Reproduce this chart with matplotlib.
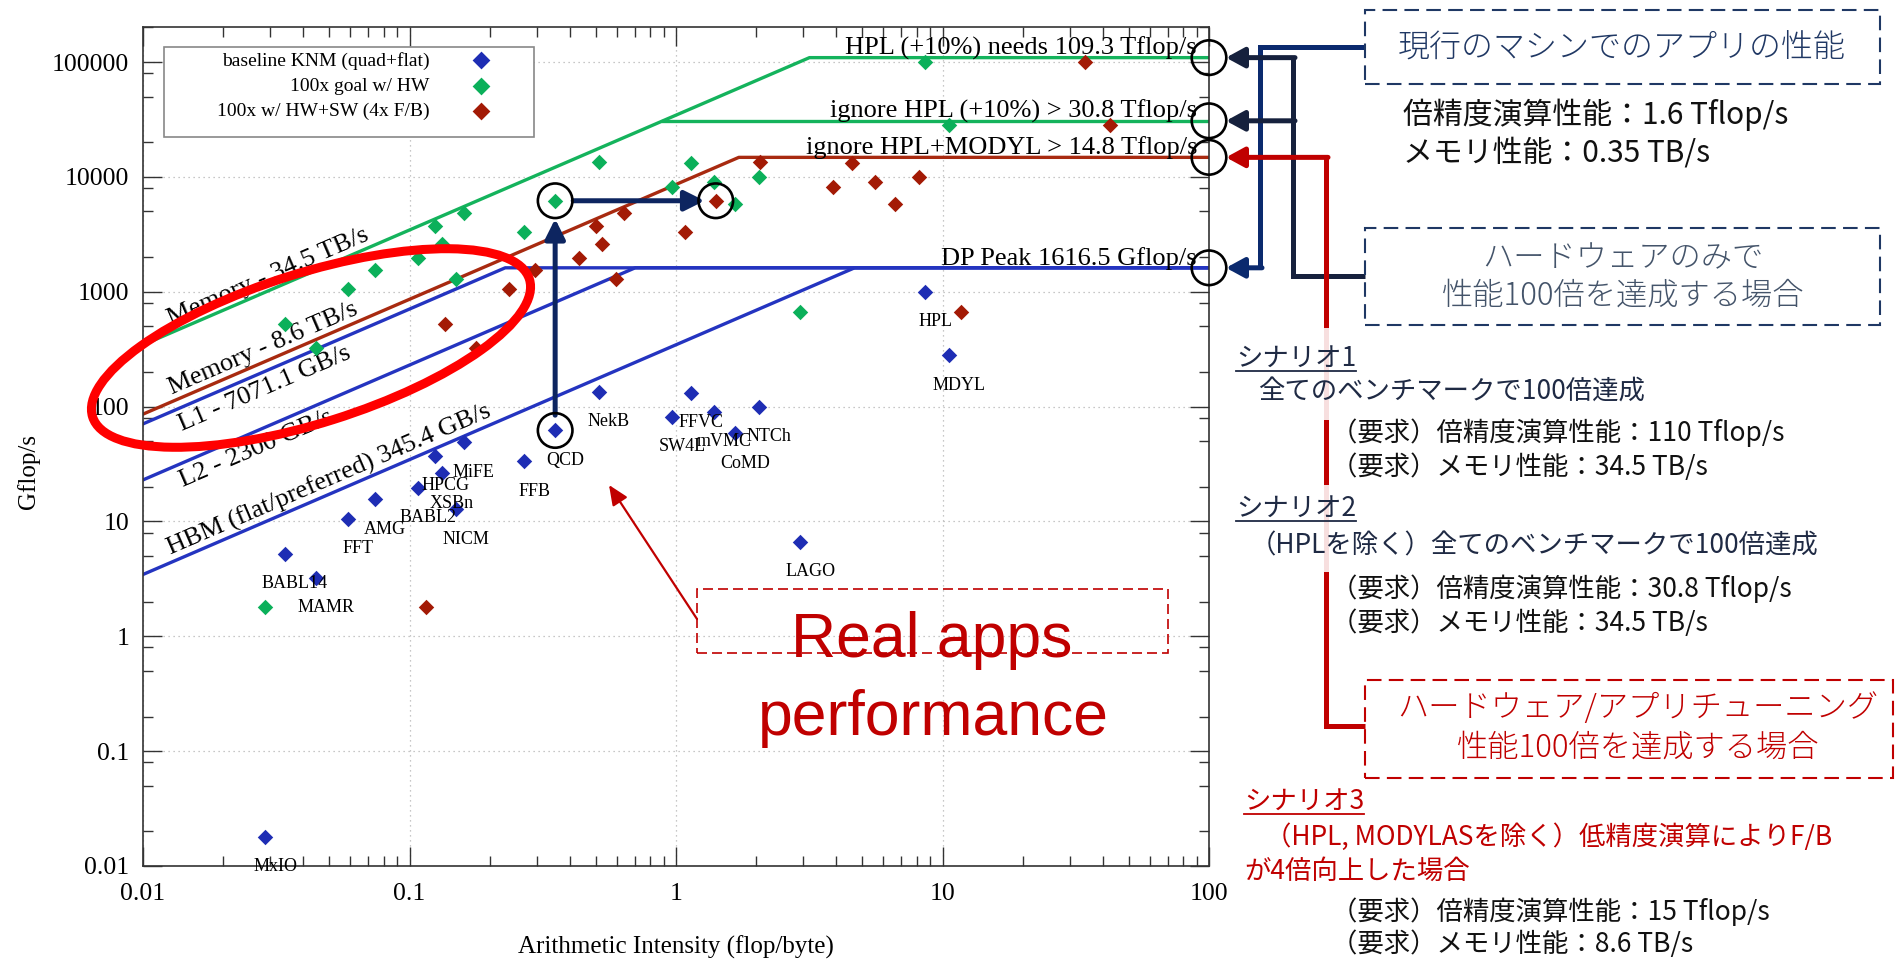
import math
import matplotlib
matplotlib.use('Agg')
import matplotlib.pyplot as plt
from matplotlib.patches import Ellipse, Rectangle, FancyArrowPatch
from matplotlib.lines import Line2D
from matplotlib.transforms import IdentityTransform
from matplotlib.ticker import LogLocator, NullFormatter

plt.rcParams['font.family'] = ['Liberation Serif', 'DejaVu Serif']
JP = ['Noto Sans CJK JP', 'DejaVu Sans']
W, H = 1898, 959

# ---- benchmark data ----
apps = ['MxIO', 'BABL14', 'MAMR', 'FFT', 'AMG', 'BABL2', 'HPCG', 'XSBn', 'NICM', 'MiFE', 'FFB',
        'QCD', 'NekB', 'FFVC', 'SW4L', 'mVMC', 'CoMD', 'NTCh', 'LAGO', 'HPL', 'MDYL']
base_ai = [0.0288, 0.0341, 0.0444, 0.0589, 0.0743, 0.108, 0.125, 0.132, 0.149, 0.160, 0.270,
           0.352, 0.514, 1.14, 0.97, 1.39, 1.67, 2.04, 2.93, 8.6, 10.6]
base_gf = [0.0179, 5.25, 3.25, 10.6, 15.6, 19.6, 37.5, 26.3, 12.8, 48.9, 33.3,
           62, 135, 132, 81.8, 90.5, 58.6, 100, 6.65, 1000, 281]
goal_gf = [1.79, 525, 325, 1060, 1560, 1960, 3750, 2630, 1280, 4890, 3330,
           6200, 13500, 13200, 8180, 9050, 5860, 10000, 665, 100000, 28100]
sw_ai = [0.115, 0.136, 0.178, 0.236, 0.297, 0.432, 0.50, 0.528, 0.596, 0.64, 1.08,
         1.41, 2.06, 4.56, 3.88, 5.56, 6.66, 8.16, 11.7, 34.4, 42.4]
sw_gf = [1.79, 525, 325, 1060, 1560, 1960, 3750, 2630, 1280, 4890, 3330,
         6200, 13500, 13200, 8180, 9050, 5860, 10000, 665, 100000, 28100]
series_names = ['baseline KNM (quad+flat)', '100x goal w/ HW', '100x w/ HW+SW (4x F/B)']

# roofs: bandwidth (GB/s) and compute ceiling (Gflop/s)
mem_names = ['Memory - 34.5 TB/s', 'Memory - 8.6 TB/s', 'L1 - 7071.1 GB/s',
             'L2 - 2300 GB/s', 'HBM (flat/preferred) 345.4 GB/s']
mem_bw = [34500, 8600, 7071.1, 2300, 345.4]
mem_top = [109300, 14800, 1616.5, 1616.5, 1616.5]
mem_label_ai = [0.0308, 0.0294, 0.0272, 0.0252, 0.0521]
mem_label_side = [1, 1, -1, -1, 1]

ceil_names = ['HPL (+10%) needs 109.3 Tflop/s', 'ignore HPL (+10%) > 30.8 Tflop/s',
              'ignore HPL+MODYL > 14.8 Tflop/s', 'DP Peak 1616.5 Gflop/s']
ceil_gf = [109300, 30800, 14800, 1616.5]

xticks = [0.01, 0.1, 1, 10, 100]
xticklabels = ['0.01', '0.1', '1', '10', '100']
yticks = [0.01, 0.1, 1, 10, 100, 1000, 10000, 100000]
yticklabels = ['0.01', '0.1', '1', '10', '100', '1000', '10000', '100000']

BLUE, GREEN, RED = '#1e2db4', '#0bb05a', '#a31a05'
LBLUE, LGREEN, LRED = '#2434c0', '#14b35c', '#a82a10'
mem_col = [LGREEN, LRED, LBLUE, LBLUE, LBLUE]
NAVY, DNAVY, CRED = '#0b2a6e', '#16213d', '#c00000'

fig = plt.figure(figsize=(W / 100, H / 100), dpi=100)
ax = fig.add_axes([143 / W, 1 - 866 / H, (1209 - 143) / W, (866 - 27) / H])
ax.set_xscale('log')
ax.set_yscale('log')
ax.set_xlim(0.01, 100)
ax.set_ylim(0.01, 2.02e5)

ax.set_xticks(xticks)
ax.set_xticklabels(xticklabels)
ax.set_yticks(yticks)
ax.set_yticklabels(yticklabels)
ax.xaxis.set_minor_locator(LogLocator(base=10, subs=range(2, 10), numticks=50))
ax.yaxis.set_minor_locator(LogLocator(base=10, subs=(2, 5, 8), numticks=50))
ax.xaxis.set_minor_formatter(NullFormatter())
ax.yaxis.set_minor_formatter(NullFormatter())
ax.tick_params(which='both', direction='in', top=True, right=True, colors='#333333',
               labelcolor='black', labelsize=18.5)
ax.tick_params(which='major', length=14, width=1)
ax.tick_params(which='minor', length=7, width=1)
ax.tick_params(axis='y', pad=10)
ax.tick_params(axis='x', pad=12)
for sp in ax.spines.values():
    sp.set_color('#333333')
    sp.set_linewidth(1.2)
ax.grid(which='major', ls=(0, (1, 3)), color='#b5b5b5', lw=0.9)
ax.set_axisbelow(True)

ax.set_xlabel('Arithmetic Intensity (flop/byte)', fontsize=18)
ax.set_ylabel('Gflop/s', fontsize=18)
ax.xaxis.set_label_coords(0.5, -0.083)
ax.yaxis.set_label_coords(-0.097, 0.47)

# roofline lines
for bw, top, col in zip(mem_bw, mem_top, mem_col):
    ax.plot([0.01, top / bw, 100], [bw * 0.01, top, top], color=col, lw=2.4, zorder=2)
ax.plot([ceil_gf[1] / mem_bw[0], 100], [ceil_gf[1], ceil_gf[1]], color=LGREEN, lw=2.4, zorder=2)

# line labels
p0 = ax.transData.transform((1, 1))
p1 = ax.transData.transform((10, 10))
ang = math.degrees(math.atan2(p1[1] - p0[1], p1[0] - p0[0]))
nx, ny = -math.sin(math.radians(ang)), math.cos(math.radians(ang))
for name, bw, xl, side in zip(mem_names, mem_bw, mem_label_ai, mem_label_side):
    off = 1.5 if side > 0 else 5
    ax.annotate(name, (xl, bw * xl), xytext=(nx * off * side, ny * off * side),
                textcoords='offset pixels', rotation=ang, rotation_mode='anchor',
                ha='center', va='bottom' if side > 0 else 'top', fontsize=19, zorder=3)
for name, v in zip(ceil_names, ceil_gf):
    ax.annotate(name, (100, v), xytext=(-12, 3), textcoords='offset pixels',
                ha='right', va='baseline', fontsize=19, zorder=3)

# data points
ms = 62
ax.scatter(base_ai, base_gf, marker='D', s=ms, color=BLUE, lw=0, zorder=4, label=series_names[0])
ax.scatter(base_ai, goal_gf, marker='D', s=ms, color=GREEN, lw=0, zorder=4, label=series_names[1])
ax.scatter(sw_ai, sw_gf, marker='D', s=ms, color=RED, lw=0, zorder=4, label=series_names[2])
for name, x, y in zip(apps, base_ai, base_gf):
    ax.annotate(name, (x, y), xytext=(10, -30), textcoords='offset pixels',
                ha='center', va='center', fontsize=13, zorder=4)

# legend (frame drawn separately so it matches the original box)
ax.add_patch(Rectangle((0.0197, 0.8689), 0.3471, 0.1073, transform=ax.transAxes,
                       fc='white', ec='#888888', lw=1.2, zorder=5))
leg = ax.legend(loc='upper right', bbox_to_anchor=(0.3668, 0.9797), borderaxespad=0,
                frameon=False, markerfirst=False, fontsize=14, handlelength=4.63,
                handletextpad=0.36, borderpad=0.39, labelspacing=0.39, scatterpoints=1,
                markerscale=1.15)
leg.set_zorder(6)

# circles and arrows marking QCD and the ceilings
q = apps.index('QCD')
circ = dict(s=620, facecolors='none', edgecolors='black', linewidths=1.9, zorder=6, clip_on=False)
ax.scatter([base_ai[q], base_ai[q], sw_ai[q]], [base_gf[q], goal_gf[q], sw_gf[q]], **circ)
ax.scatter([100] * len(ceil_gf), ceil_gf, **circ)
akw = dict(arrowstyle='-|>,head_length=0.6,head_width=0.3', mutation_scale=20,
           color='#0d2560', lw=3.6)
ax.annotate('', xy=(base_ai[q], goal_gf[q]), xytext=(base_ai[q], base_gf[q]),
            arrowprops=dict(akw, shrinkA=11, shrinkB=13))
ax.annotate('', xy=(sw_ai[q], sw_gf[q]), xytext=(base_ai[q], goal_gf[q]),
            arrowprops=dict(akw, shrinkA=13, shrinkB=8))

# red ellipse around the memory-bound region
fig.add_artist(Ellipse((311, H - 348), 458, 150, angle=17.5, transform=IdentityTransform(),
                       fill=False, ec='#ff0000', lw=6.5, zorder=5))

# "Real apps performance" callout
fig.add_artist(Rectangle((697, H - 653), 471, 64, transform=IdentityTransform(),
                         fill=False, ec=CRED, lw=1.2, ls=(0, (6, 3)), zorder=5))
fig.add_artist(FancyArrowPatch((697, H - 619), (609, H - 485), transform=IdentityTransform(),
                               arrowstyle='-|>,head_length=0.8,head_width=0.35', mutation_scale=15,
                               color=CRED, lw=1.6, shrinkA=0, shrinkB=0, zorder=5))
fig.text(932 / W, 1 - 641 / H, 'Real apps', fontsize=45, color=CRED, family='Liberation Sans',
         ha='center', va='center', zorder=6)
fig.text(933 / W, 1 - 718 / H, 'performance', fontsize=45, color=CRED, family='Liberation Sans',
         ha='center', va='center', zorder=6)

# ---- right-hand explanation panel ----
def ypx(v):
    return H - ax.transData.transform((1, v))[1]


def poly(xs, ys, color):
    fig.add_artist(Line2D(xs, [H - y for y in ys], transform=IdentityTransform(), color=color,
                          lw=3.6, solid_joinstyle='miter', solid_capstyle='butt', zorder=1))


def arrow_left(x0, x1, y, color):
    fig.add_artist(FancyArrowPatch((x0, H - y), (x1, H - y), transform=IdentityTransform(),
                                   arrowstyle='-|>,head_length=0.55,head_width=0.3', mutation_scale=20,
                                   color=color, lw=3.6, shrinkA=0, shrinkB=0, zorder=1))


def dbox(x0, y0, x1, y1, color):
    fig.add_artist(Rectangle((x0, H - y1), x1 - x0, y1 - y0, transform=IdentityTransform(),
                             fill=False, ec=color, lw=1.5, ls=(0, (7, 3.5)), zorder=2))


def jtext(x, y, s, size, color, ha='left', weight='normal', underline=False):
    t = fig.text(x / W, 1 - y / H, s, fontsize=size, color=color, ha=ha, va='center',
                 family=JP, fontweight=weight, zorder=3)
    if underline:
        bb = t.get_window_extent(fig.canvas.get_renderer())
        fig.add_artist(Line2D([bb.x0, bb.x1], [bb.y0 + 1, bb.y0 + 1], transform=IdentityTransform(),
                              color=color, lw=1.3, zorder=3))
    return t


y_hpl, y_ign, y_mod, y_dp = [ypx(v) for v in ceil_gf]
poly([1365, 1260, 1260], [47, 47, y_dp], NAVY)
arrow_left(1262, 1226, y_dp, NAVY)
poly([1365, 1293, 1293], [276, 276, y_hpl], DNAVY)
arrow_left(1295, 1226, y_hpl, DNAVY)
arrow_left(1295, 1226, y_ign, DNAVY)
poly([1365, 1326, 1326], [726, 726, y_mod], CRED)
arrow_left(1328, 1226, y_mod, CRED)
for ya, yb in [(328, 420), (485, 572)]:
    fig.add_artist(Rectangle((1316, H - yb), 22, yb - ya, transform=IdentityTransform(),
                             fc='white', ec='none', alpha=0.88, zorder=2))

dbox(1365, 10, 1880, 84, '#1f3864')
dbox(1365, 228, 1880, 325, '#1f3864')
dbox(1365, 680, 1893, 778, CRED)

fig.canvas.draw()
jtext(1622, 48, '現行のマシンでのアプリの性能', 23, '#203864', 'center', 'light')
jtext(1403, 115, '倍精度演算性能：1.6 Tflop/s', 21.5, '#111111')
jtext(1403, 153, 'メモリ性能：0.35 TB/s', 21.5, '#111111')
jtext(1623, 258, 'ハードウェアのみで', 22.5, '#44546a', 'center', 'light')
jtext(1623, 296, '性能100倍を達成する場合', 22.5, '#44546a', 'center', 'light')

jtext(1236, 358, 'シナリオ1', 19, '#1f2a44', underline=True)
jtext(1258, 392, '全てのベンチマークで100倍達成', 19, '#1f2a44')
jtext(1331, 433, '（要求）倍精度演算性能：110 Tflop/s', 19, '#111111')
jtext(1331, 467, '（要求）メモリ性能：34.5 TB/s', 19, '#111111')

jtext(1236, 508, 'シナリオ2', 19, '#1f2a44', underline=True)
jtext(1250, 546, '（HPLを除く）全てのベンチマークで100倍達成', 19, '#1f2a44')
jtext(1331, 589, '（要求）倍精度演算性能：30.8 Tflop/s', 19, '#111111')
jtext(1331, 623, '（要求）メモリ性能：34.5 TB/s', 19, '#111111')

jtext(1638, 708, 'ハードウェア/アプリチューニング', 22.5, CRED, 'center', 'light')
jtext(1638, 748, '性能100倍を達成する場合', 22.5, CRED, 'center', 'light')

jtext(1244, 801, 'シナリオ3', 19, CRED, underline=True)
jtext(1265, 837, '（HPL, MODYLASを除く）低精度演算によりF/B', 19, CRED)
jtext(1244, 871, 'が4倍向上した場合', 19, CRED)
jtext(1331, 912, '（要求）倍精度演算性能：15 Tflop/s', 19, '#111111')
jtext(1331, 944, '（要求）メモリ性能：8.6 TB/s', 19, '#111111')

fig.savefig('out.png', dpi=100)
